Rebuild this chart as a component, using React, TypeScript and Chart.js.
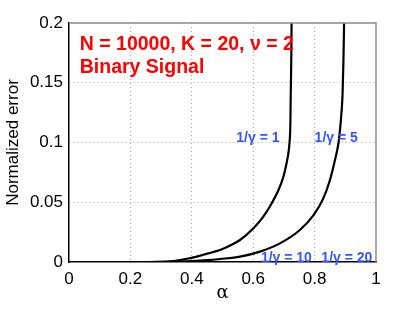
import React, { useEffect, useRef } from "react";
import { Chart, registerables } from "chart.js";

Chart.register(...registerables);

const alphaG1 = [0.05, 0.2, 0.3, 0.34, 0.38, 0.416, 0.45, 0.492, 0.525, 0.557, 0.6, 0.633, 0.66, 0.682, 0.698, 0.709, 0.714, 0.718, 0.721, 0.722, 0.724, 0.725];
const errG1 = [0, 0, 0.0002, 0.0008, 0.0025, 0.0045, 0.007, 0.010, 0.0138, 0.0184, 0.028, 0.038, 0.049, 0.06, 0.071, 0.083, 0.09, 0.099, 0.115, 0.135, 0.17, 0.2];

const alphaG5 = [0.05, 0.2, 0.318, 0.4, 0.45, 0.492, 0.557, 0.622, 0.687, 0.752, 0.796, 0.828, 0.85, 0.866, 0.878, 0.886, 0.891, 0.894, 0.896];
const errG5 = [0, 0, 0.0002, 0.0008, 0.0015, 0.0025, 0.0045, 0.0087, 0.0156, 0.0268, 0.039, 0.053, 0.0686, 0.085, 0.1, 0.12, 0.14, 0.169, 0.2];

const alphaG10 = [0.05, 0.6, 0.8, 1.0];
const errG10 = [0, 0, 0, 0];
const alphaG20 = [0.05, 0.6, 0.8, 1.0];
const errG20 = [0, 0, 0, 0];

const xTicks = [0, 0.2, 0.4, 0.6, 0.8, 1];
const yTicks = [0, 0.05, 0.1, 0.15, 0.2];

const titleLine1 = "N = 10000, K = 20, \u03bd = 2";
const titleLine2 = "Binary Signal";
const curveLabels = [
  { text: "1/\u03b3 = 1", x: 0.545, y: 0.1035 },
  { text: "1/\u03b3 = 5", x: 0.8, y: 0.1035 },
  { text: "1/\u03b3 = 10", x: 0.625, y: 0.0035 },
  { text: "1/\u03b3 = 20", x: 0.822, y: 0.0035 },
];

const pts = (xs: number[], ys: number[]) => xs.map((x, i) => ({ x, y: ys[i] }));

const FONT = "'Liberation Sans', Arial, Helvetica, sans-serif";

const annotPlugin = {
  id: "annot",
  afterDatasetsDraw(chart: any) {
    const { ctx, chartArea, scales } = chart;
    const xs = scales.x;
    const ys = scales.y;
    ctx.save();
    ctx.strokeStyle = "#8a8a8a";
    ctx.lineWidth = 1.5;
    ctx.beginPath();
    ctx.moveTo(chartArea.left, chartArea.top);
    ctx.lineTo(chartArea.right, chartArea.top);
    ctx.lineTo(chartArea.right, chartArea.bottom);
    ctx.stroke();
    ctx.fillStyle = "#ff0000";
    ctx.font = `bold 19.5px ${FONT}`;
    ctx.textAlign = "left";
    ctx.textBaseline = "alphabetic";
    ctx.fillText(titleLine1, xs.getPixelForValue(0.035), ys.getPixelForValue(0.1775));
    ctx.fillText(titleLine2, xs.getPixelForValue(0.035), ys.getPixelForValue(0.1585));
    ctx.fillStyle = "#3355ff";
    ctx.font = `bold 14px ${FONT}`;
    ctx.textBaseline = "middle";
    for (const l of curveLabels) {
      ctx.fillText(l.text, xs.getPixelForValue(l.x), ys.getPixelForValue(l.y));
    }
    ctx.restore();
  },
};

export default function App() {
  const ref = useRef<HTMLCanvasElement>(null);
  useEffect(() => {
    const lineDs = (data: any[]) => ({
      data,
      borderColor: "#000000",
      borderWidth: 2.2,
      pointRadius: 0,
      cubicInterpolationMode: "monotone",
      fill: false,
    });
    const chart = new Chart(ref.current!, {
      type: "line",
      data: {
        datasets: [
          lineDs(pts(alphaG1, errG1)),
          lineDs(pts(alphaG5, errG5)),
          lineDs(pts(alphaG10, errG10)),
          lineDs(pts(alphaG20, errG20)),
        ],
      },
      options: {
        animation: false,
        responsive: false,
        maintainAspectRatio: false,
        layout: { padding: { top: 23, right: 39, left: 0, bottom: 0 } },
        plugins: { legend: { display: false }, tooltip: { enabled: false } },
        scales: {
          x: {
            type: "linear",
            min: 0,
            max: 1,
            afterBuildTicks: (s: any) => {
              s.ticks = xTicks.map((v) => ({ value: v }));
            },
            afterFit: (s: any) => {
              s.height = 47;
            },
            ticks: {
              color: "#000",
              font: { family: FONT, size: 17 },
              padding: 7,
              maxRotation: 0,
              callback: (v: any) => String(v),
            },
            grid: {
              drawTicks: false,
              color: (c: any) => (c.tick && (c.tick.value === 0 || c.tick.value === 1) ? "rgba(0,0,0,0)" : "#a8a8a8"),
              lineWidth: 1,
            },
            border: { display: true, color: "#000", width: 1.5, dash: [1, 3] },
            title: {
              display: true,
              text: "\u03b1",
              color: "#000",
              font: { family: "'DejaVu Serif', serif", size: 18 },
              padding: { top: 0, bottom: 5 },
            },
          },
          y: {
            type: "linear",
            min: 0,
            max: 0.2,
            afterBuildTicks: (s: any) => {
              s.ticks = yTicks.map((v) => ({ value: v }));
            },
            afterFit: (s: any) => {
              s.width = 69;
            },
            ticks: {
              color: "#000",
              font: { family: FONT, size: 17 },
              padding: 6,
              callback: (v: any) => String(v),
            },
            grid: {
              drawTicks: false,
              color: (c: any) => (c.tick && (c.tick.value === 0 || c.tick.value === 0.2) ? "rgba(0,0,0,0)" : "#a8a8a8"),
              lineWidth: 1,
            },
            border: { display: true, color: "#000", width: 1.5, dash: [1, 3] },
            title: {
              display: true,
              text: "Normalized error",
              color: "#000",
              font: { family: FONT, size: 17 },
              padding: { top: 3, bottom: 0 },
            },
          },
        },
      },
      plugins: [annotPlugin],
    } as any);
    return () => chart.destroy();
  }, []);
  return (
    <div style={{ position: "fixed", left: 0, top: 0, width: 415, height: 309, background: "#fff" }}>
      <canvas ref={ref} width={415} height={309} style={{ width: 415, height: 309 }} />
    </div>
  );
}
